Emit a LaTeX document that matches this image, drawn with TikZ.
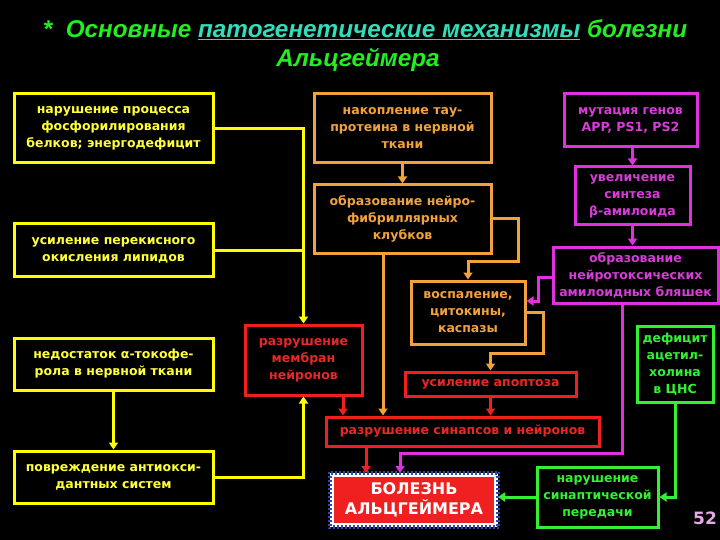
\documentclass[tikz,border=0pt]{standalone}
\usepackage{fontspec}
\setmainfont{DejaVu Sans}
\newfontfamily\titlefont{Liberation Sans}
\usetikzlibrary{arrows.meta,calc}
\definecolor{cyel}{HTML}{FFFF00}
\definecolor{cyelt}{HTML}{FFFF3A}
\definecolor{cora}{HTML}{F2A23C}
\definecolor{cred}{HTML}{F02020}
\definecolor{credt}{HTML}{E82828}
\definecolor{cmag}{HTML}{E030E0}
\definecolor{cmagt}{HTML}{D83CD8}
\definecolor{cgrn}{HTML}{33F033}
\definecolor{ctitle}{HTML}{22EE22}
\definecolor{cteal}{HTML}{33DDBB}
\definecolor{cblue}{HTML}{3048B0}
\definecolor{cpink}{HTML}{E8A8E8}
\begin{document}
\begin{tikzpicture}[x=1pt,y=-1pt,
  box/.style={rectangle,draw,line width=3pt,inner sep=0pt,align=center,
    font=\bfseries\fontsize{12.5}{17}\selectfont},
  ybox/.style={box,draw=cyel,text=cyelt},
  obox/.style={box,draw=cora,text=cora},
  rbox/.style={box,draw=cred,text=credt},
  mbox/.style={box,draw=cmag,text=cmagt},
  gbox/.style={box,draw=cgrn,text=cgrn},
  conn/.style={line width=3pt},
  arr/.style={conn,-{Triangle[width=9pt,length=7pt]}},
]
\fill[black] (0,0) rectangle (720,540);
\useasboundingbox (0,0) rectangle (720,540);

% title
\node[anchor=base,font=\titlefont\bfseries\itshape\fontsize{24.3}{29}\selectfont,text=ctitle] (T1) at (365,38)
  {*\ \ Основные \textcolor{cteal}{\underline{патогенетические механизмы}} болезни};
\node[anchor=base,font=\titlefont\bfseries\itshape\fontsize{24.3}{29}\selectfont,text=ctitle] (T2) at (358,67)
  {Альцгеймера};

% yellow boxes
\node[ybox,minimum width=199pt,minimum height=69pt] (A) at (113.5,128.5)
  {нарушение процесса\\фосфорилирования\\белков; энергодефицит};
\node[ybox,minimum width=199pt,minimum height=52pt] (B) at (113.5,250)
  {усиление перекисного\\окисления липидов};
\node[ybox,minimum width=199pt,minimum height=52pt] (C) at (113.5,364)
  {недостаток α-токофе-\\рола в нервной ткани};
\node[ybox,minimum width=199pt,minimum height=52pt] (D) at (113.5,477)
  {повреждение антиокси-\\дантных систем};

% red boxes
\node[rbox,minimum width=117pt,minimum height=70pt] (E) at (303.5,360)
  {разрушение\\мембран\\нейронов};
\node[rbox,minimum width=171pt,minimum height=24pt] (I) at (490.5,384)
  {усиление апоптоза};
\node[rbox,minimum width=273pt,minimum height=29pt] (J) at (462.5,431.5)
  {разрушение синапсов и нейронов};

% orange boxes
\node[obox,minimum width=177pt,minimum height=69pt] (F) at (402.5,128.5)
  {накопление тау-\\протеина в нервной\\ткани};
\node[obox,minimum width=177pt,minimum height=68pt] (G) at (402.5,219)
  {образование нейро-\\фибриллярных\\клубков};
\node[obox,minimum width=114pt,minimum height=63pt] (H) at (468,312.5)
  {воспаление,\\цитокины,\\каспазы};

% magenta boxes
\node[mbox,minimum width=133pt,minimum height=53pt] (L) at (630.5,120.5)
  {мутация генов\\APP, PS1, PS2};
\node[mbox,minimum width=115pt,minimum height=58pt] (M) at (632.5,196)
  {увеличение\\синтеза\\β-амилоида};
\node[mbox,minimum width=165pt,minimum height=56pt] (N) at (635.5,275)
  {образование\\нейротоксических\\амилоидных бляшек};

% green boxes
\node[gbox,minimum width=76pt,minimum height=76pt] (O) at (675,364)
  {дефицит\\ацетил-\\холина\\в ЦНС};
\node[gbox,minimum width=121pt,minimum height=60pt] (P) at (597.5,497)
  {нарушение\\синаптической\\передачи};

% disease box
\node[rectangle,fill=cred,draw=white,line width=4pt,inner sep=0pt,align=center,
  minimum width=164pt,minimum height=50pt,text=white,
  font=\bfseries\fontsize{16}{20}\selectfont] (K) at (414,500)
  {БОЛЕЗНЬ\\АЛЬЦГЕЙМЕРА};
\draw[cblue,line width=2pt,dash pattern=on 2pt off 2pt]
  ($(K.north west)+(-1,-1)$) rectangle ($(K.south east)+(1,1)$);
\draw[cblue,line width=2pt,dash pattern=on 2pt off 2pt,dash phase=2pt]
  ($(K.north west)+(1,1)$) rectangle ($(K.south east)+(-1,-1)$);

% helper coordinates
\coordinate (gx) at (383,0);
\coordinate (ex) at (343,0);
\coordinate (jx) at (366,0);
\coordinate (kx) at (400,0);
\coordinate (nx) at (622,0);
\coordinate (hy) at (0,301);
\coordinate (ny) at (0,277);

% yellow connectors
\draw[arr,cyel] (A.east) -| (E.north);
\draw[conn,cyel] (B.east) -- (B.east -| E.north);
\draw[arr,cyel] (C.south) -- (D.north);
\draw[arr,cyel] (D.east) -| (E.south);

% orange connectors
\draw[arr,cora] (F.south) -- (G.north);
\draw[arr,cora] (G.east) -- ++(26,0) |- (0,261 -| H.north) -- (H.north);
\draw[arr,cora] (G.south -| gx) -- (J.north -| gx);
\draw[arr,cora] (H.east) -- ++(17,0) |- (0,353 -| I.north) -- (I.north);

% red connectors
\draw[arr,cred] (I.south) -- (J.north -| I.south);
\draw[arr,cred] (E.south -| ex) -- (J.north -| ex);
\draw[arr,cred] (J.south -| jx) -- (K.north -| jx);

% magenta connectors
\draw[arr,cmag] (L.south -| M.north) -- (M.north);
\draw[arr,cmag] (M.south) -- (N.north -| M.south);
\draw[arr,cmag] (N.west |- ny) -- ++(-13,0) |- (H.east |- hy);
\draw[arr,cmag] (N.south -| nx) -- (nx |- 0,453) -| (K.north -| kx);

% green connectors
\draw[arr,cgrn] (O.south) |- (P.east);
\draw[arr,cgrn] (P.west) -- (K.east |- P.west);

% page number
\node[font=\bfseries\fontsize{17}{20}\selectfont,text=cpink] (pg) at (705,518) {52};
\end{tikzpicture}
\end{document}
